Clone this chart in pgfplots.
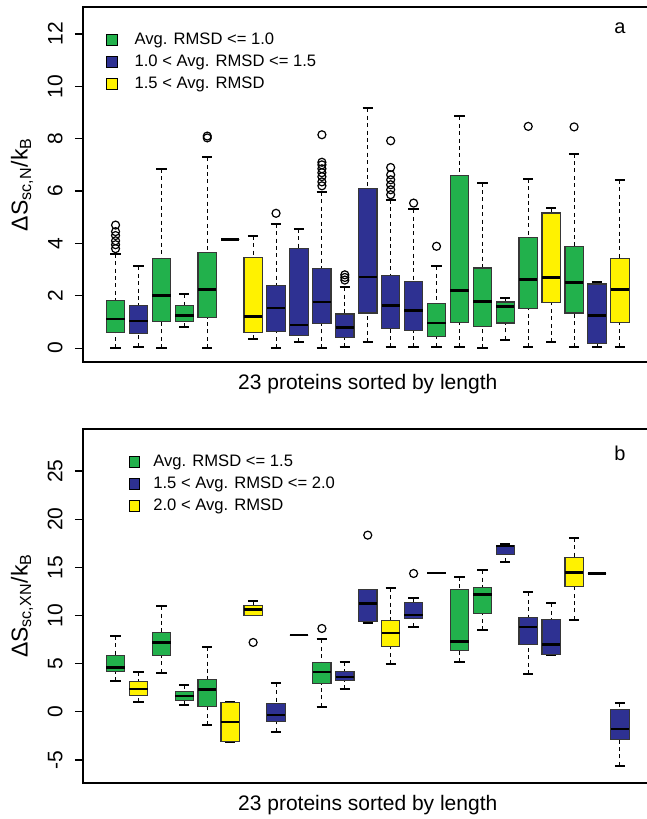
\documentclass[border=0pt]{standalone}
\usepackage{fontspec}
\setmainfont{Liberation Sans}
\usepackage{pgfplots}
\pgfplotsset{compat=1.18}
\usepgfplotslibrary{statistics}

\definecolor{cgreen}{RGB}{34,177,76}
\definecolor{cblue}{RGB}{46,49,146}
\definecolor{cyellow}{RGB}{255,242,0}
\definecolor{boxline}{RGB}{55,55,55}

\pgfplotsset{
  rbox/.style={
    scale only axis, width=284.75pt,
    xmin=-0.42, xmax=24.42, xtick=\empty,
    axis line style={line width=0.9pt},
    tick align=outside, ytick pos=left, major tick length=4pt,
    tick style={black, line width=0.6pt},
    ticklabel style={font=\fontsize{10.5}{12}\selectfont},
    yticklabel style={rotate=90, anchor=south, inner sep=0pt},
    yticklabel shift=6pt,
    /pgf/number format/assume math mode=true,
    label style={font=\fontsize{10.5}{12}\selectfont},
    xlabel={23 proteins sorted by length},
    xlabel style={at={(axis description cs:0.5,0)}, anchor=north, yshift=-6pt, inner sep=0pt},
    ylabel style={at={(axis description cs:-0.107,0.5)}, anchor=center, inner sep=0pt,
      font=\fontsize{11.5}{13}\selectfont},
    boxplot/draw direction=y,
    boxplot/box extend=0.8, boxplot/whisker extend=0.45,
    boxplot/draw/box/.code={
      \draw[/pgfplots/boxplot/every box/.try]
        (boxplot box cs:\pgfplotsboxplotvalue{lower quartile},0) rectangle
        (boxplot box cs:\pgfplotsboxplotvalue{upper quartile},1);
    },
    boxplot/draw/median/.code={
      \draw[black, line width=1.3pt]
        (boxplot box cs:\pgfplotsboxplotvalue{median},0) --
        (boxplot box cs:\pgfplotsboxplotvalue{median},1);
    },
    boxplot/draw/lower whisker/.code={
      \draw[black, line width=0.5pt, dash pattern=on 2pt off 1.7pt]
        (boxplot box cs:\pgfplotsboxplotvalue{lower whisker},0.5) --
        (boxplot box cs:\pgfplotsboxplotvalue{lower quartile},0.5);
      \draw[black, line width=1pt]
        (boxplot whisker cs:\pgfplotsboxplotvalue{lower whisker},0) --
        (boxplot whisker cs:\pgfplotsboxplotvalue{lower whisker},1);
    },
    boxplot/draw/upper whisker/.code={
      \draw[black, line width=0.5pt, dash pattern=on 2pt off 1.7pt]
        (boxplot box cs:\pgfplotsboxplotvalue{upper whisker},0.5) --
        (boxplot box cs:\pgfplotsboxplotvalue{upper quartile},0.5);
      \draw[black, line width=1pt]
        (boxplot whisker cs:\pgfplotsboxplotvalue{upper whisker},0) --
        (boxplot whisker cs:\pgfplotsboxplotvalue{upper whisker},1);
    },
    every axis plot/.append style={mark=o, mark size=2pt,
      mark options={solid, black, line width=0.6pt, fill=none}},
    legend image code/.code={\draw[#1, line width=0.5pt] (0pt,-2.6pt) rectangle (5.2pt,2.6pt);},
    legend cell align=left,
    legend style={draw=none, fill=none, inner sep=0pt, anchor=north west,
      font=\fontsize{8.3}{10}\selectfont, row sep=1.5pt,
      nodes={inner sep=1pt, text height=6pt, text depth=1.5pt}},
  },
  bg/.style={boxplot/every box/.style={fill=cgreen, draw=boxline, line width=0.6pt}},
  bb/.style={boxplot/every box/.style={fill=cblue, draw=boxline, line width=0.6pt}},
  by/.style={boxplot/every box/.style={fill=cyellow, draw=boxline, line width=0.6pt}},
}

\begin{document}
\begin{tikzpicture}
\path[use as bounding box] (0,0) rectangle (323.5pt,-409.5pt);
\clip (0,0) rectangle (323.5pt,-409.5pt);

% ---------------- panel a ----------------
\begin{axis}[rbox,
  at={(41.5pt,-3.5pt)}, anchor=north west, height=177.5pt,
  ymin=-0.53, ymax=13.03, ytick={0,2,4,6,8,10,12},
  ylabel={ΔS\textsubscript{sc,N}/k\textsubscript{B}},
  legend style={at={(axis description cs:0.04,0.935)},
    /tikz/every odd column/.append style={column sep=7.5pt}},
]
\addlegendimage{fill=cgreen, draw=black}
\addlegendentry{Avg. RMSD <= 1.0}
\addlegendimage{fill=cblue, draw=black}
\addlegendentry{1.0 < Avg. RMSD <= 1.5}
\addlegendimage{fill=cyellow, draw=black}
\addlegendentry{1.5 < Avg. RMSD}

\addplot[bg, boxplot prepared={draw position=1, lower whisker=0, lower quartile=0.61, median=1.11, upper quartile=1.83, upper whisker=3.6}]
  coordinates {(1,3.8) (1,3.95) (1,4.1) (1,4.3) (1,4.45) (1,4.7)};
\addplot[bb, boxplot prepared={draw position=2, lower whisker=0.05, lower quartile=0.57, median=1.04, upper quartile=1.63, upper whisker=3.12}] coordinates {};
\addplot[bg, boxplot prepared={draw position=3, lower whisker=0, lower quartile=1.02, median=2.01, upper quartile=3.41, upper whisker=6.85}] coordinates {};
\addplot[bg, boxplot prepared={draw position=4, lower whisker=0.79, lower quartile=1.02, median=1.25, upper quartile=1.64, upper whisker=2.05}] coordinates {};
\addplot[bg, boxplot prepared={draw position=5, lower whisker=0, lower quartile=1.17, median=2.23, upper quartile=3.66, upper whisker=7.29}]
  coordinates {(5,8.03) (5,8.1)};
\addplot[bg, boxplot prepared={draw position=6, lower whisker=4.15, lower quartile=4.15, median=4.15, upper quartile=4.15, upper whisker=4.15}] coordinates {};
\addplot[by, boxplot prepared={draw position=7, lower whisker=0.34, lower quartile=0.6, median=1.21, upper quartile=3.46, upper whisker=4.29}] coordinates {};
\addplot[bb, boxplot prepared={draw position=8, lower whisker=0, lower quartile=0.64, median=1.54, upper quartile=2.39, upper whisker=4.75}]
  coordinates {(8,5.15)};
\addplot[bb, boxplot prepared={draw position=9, lower whisker=0.23, lower quartile=0.47, median=0.88, upper quartile=3.8, upper whisker=4.56}] coordinates {};
\addplot[bb, boxplot prepared={draw position=10, lower whisker=0, lower quartile=0.93, median=1.76, upper quartile=3.03, upper whisker=5.96}]
  coordinates {(10,6.2) (10,6.35) (10,6.55) (10,6.7) (10,6.85) (10,7.0) (10,7.1) (10,8.15)};
\addplot[bb, boxplot prepared={draw position=11, lower whisker=0.03, lower quartile=0.41, median=0.79, upper quartile=1.3, upper whisker=2.33}]
  coordinates {(11,2.6) (11,2.7) (11,2.8)};
\addplot[bb, boxplot prepared={draw position=12, lower whisker=0.23, lower quartile=1.34, median=2.71, upper quartile=6.09, upper whisker=9.16}] coordinates {};
\addplot[bb, boxplot prepared={draw position=13, lower whisker=0.03, lower quartile=0.76, median=1.62, upper quartile=2.78, upper whisker=5.67}]
  coordinates {(13,5.86) (13,6.05) (13,6.24) (13,6.43) (13,6.62) (13,6.9) (13,7.92)};
\addplot[bb, boxplot prepared={draw position=14, lower whisker=0.03, lower quartile=0.66, median=1.44, upper quartile=2.55, upper whisker=5.31}]
  coordinates {(14,5.54)};
\addplot[bg, boxplot prepared={draw position=15, lower whisker=0.06, lower quartile=0.45, median=0.96, upper quartile=1.69, upper whisker=3.12}]
  coordinates {(15,3.89)};
\addplot[bg, boxplot prepared={draw position=16, lower whisker=0.03, lower quartile=0.98, median=2.19, upper quartile=6.59, upper whisker=8.85}] coordinates {};
\addplot[bg, boxplot prepared={draw position=17, lower whisker=0, lower quartile=0.83, median=1.77, upper quartile=3.06, upper whisker=6.32}] coordinates {};
\addplot[bg, boxplot prepared={draw position=18, lower whisker=0.32, lower quartile=0.96, median=1.59, upper quartile=1.76, upper whisker=1.9}] coordinates {};
\addplot[bg, boxplot prepared={draw position=19, lower whisker=0.03, lower quartile=1.52, median=2.61, upper quartile=4.24, upper whisker=6.47}]
  coordinates {(19,8.47)};
\addplot[by, boxplot prepared={draw position=20, lower whisker=0.22, lower quartile=1.73, median=2.7, upper quartile=5.16, upper whisker=5.36}] coordinates {};
\addplot[bg, boxplot prepared={draw position=21, lower whisker=0.03, lower quartile=1.34, median=2.51, upper quartile=3.87, upper whisker=7.43}]
  coordinates {(21,8.45)};
\addplot[bb, boxplot prepared={draw position=22, lower whisker=0.06, lower quartile=0.19, median=1.25, upper quartile=2.45, upper whisker=2.51}] coordinates {};
\addplot[by, boxplot prepared={draw position=23, lower whisker=0.03, lower quartile=0.98, median=2.23, upper quartile=3.41, upper whisker=6.43}] coordinates {};

\node[font=\fontsize{10}{12}\selectfont] at (axis description cs:0.943,0.941) {a};
\end{axis}

% ---------------- panel b ----------------
\begin{axis}[rbox,
  at={(41.5pt,-214.5pt)}, anchor=north west, height=176.85pt,
  ymin=-7.36, ymax=29.36, ytick={-5,0,5,10,15,20,25},
  ylabel={ΔS\textsubscript{sc,XN}/k\textsubscript{B}},
  legend style={at={(axis description cs:0.08,0.935)},
    /tikz/every odd column/.append style={column sep=5.5pt}},
]
\addlegendimage{fill=cgreen, draw=black}
\addlegendentry{Avg. RMSD <= 1.5}
\addlegendimage{fill=cblue, draw=black}
\addlegendentry{1.5 < Avg. RMSD <= 2.0}
\addlegendimage{fill=cyellow, draw=black}
\addlegendentry{2.0 < Avg. RMSD}

\addplot[bg, boxplot prepared={draw position=1, lower whisker=3.18, lower quartile=4.15, median=4.57, upper quartile=5.81, upper whisker=7.89}] coordinates {};
\addplot[by, boxplot prepared={draw position=2, lower whisker=0.97, lower quartile=1.66, median=2.35, upper quartile=3.11, upper whisker=4.15}] coordinates {};
\addplot[bg, boxplot prepared={draw position=3, lower whisker=4.08, lower quartile=5.88, median=7.2, upper quartile=8.24, upper whisker=10.97}] coordinates {};
\addplot[bg, boxplot prepared={draw position=4, lower whisker=0.69, lower quartile=1.14, median=1.66, upper quartile=2.15, upper whisker=2.77}] coordinates {};
\addplot[bg, boxplot prepared={draw position=5, lower whisker=-1.38, lower quartile=0.59, median=2.32, upper quartile=3.39, upper whisker=6.75}] coordinates {};
\addplot[by, boxplot prepared={draw position=6, lower whisker=-3.11, lower quartile=-3.11, median=-1.04, upper quartile=0.97, upper whisker=0.97}] coordinates {};
\addplot[by, boxplot prepared={draw position=7, lower whisker=10.03, lower quartile=10.03, median=10.62, upper quartile=11.0, upper whisker=11.49}]
  coordinates {(7,7.2)};
\addplot[bb, boxplot prepared={draw position=8, lower whisker=-2.08, lower quartile=-1.04, median=-0.35, upper quartile=0.87, upper whisker=3.01}] coordinates {};
\addplot[bb, boxplot prepared={draw position=9, lower whisker=7.96, lower quartile=7.96, median=7.96, upper quartile=7.96, upper whisker=7.96}] coordinates {};
\addplot[bg, boxplot prepared={draw position=10, lower whisker=0.52, lower quartile=2.94, median=4.15, upper quartile=5.09, upper whisker=7.51}]
  coordinates {(10,8.65)};
\addplot[bb, boxplot prepared={draw position=11, lower whisker=2.42, lower quartile=3.22, median=3.63, upper quartile=4.15, upper whisker=5.19}] coordinates {};
\addplot[bb, boxplot prepared={draw position=12, lower whisker=9.27, lower quartile=9.38, median=11.25, upper quartile=12.66, upper whisker=12.66}]
  coordinates {(12,18.34)};
\addplot[by, boxplot prepared={draw position=13, lower whisker=4.95, lower quartile=6.75, median=8.2, upper quartile=9.45, upper whisker=12.87}] coordinates {};
\addplot[bb, boxplot prepared={draw position=14, lower whisker=8.82, lower quartile=9.69, median=10.03, upper quartile=11.35, upper whisker=11.83}]
  coordinates {(14,14.36)};
\addplot[bb, boxplot prepared={draw position=15, lower whisker=14.43, lower quartile=14.43, median=14.43, upper quartile=14.43, upper whisker=14.43}] coordinates {};
\addplot[bg, boxplot prepared={draw position=16, lower whisker=5.12, lower quartile=6.33, median=7.27, upper quartile=12.66, upper whisker=14.01}] coordinates {};
\addplot[bg, boxplot prepared={draw position=17, lower whisker=8.48, lower quartile=10.21, median=12.18, upper quartile=12.94, upper whisker=14.71}] coordinates {};
\addplot[bb, boxplot prepared={draw position=18, lower whisker=15.57, lower quartile=16.37, median=17.2, upper quartile=17.3, upper whisker=17.4}] coordinates {};
\addplot[bb, boxplot prepared={draw position=19, lower whisker=3.91, lower quartile=6.99, median=8.79, upper quartile=9.76, upper whisker=12.39}] coordinates {};
\addplot[bb, boxplot prepared={draw position=20, lower whisker=5.92, lower quartile=5.92, median=6.96, upper quartile=9.55, upper whisker=11.25}] coordinates {};
\addplot[by, boxplot prepared={draw position=21, lower whisker=9.55, lower quartile=12.98, median=14.46, upper quartile=16.02, upper whisker=18.06}] coordinates {};
\addplot[by, boxplot prepared={draw position=22, lower whisker=14.36, lower quartile=14.36, median=14.36, upper quartile=14.36, upper whisker=14.36}] coordinates {};
\addplot[bb, boxplot prepared={draw position=23, lower whisker=-5.61, lower quartile=-2.87, median=-1.8, upper quartile=0.28, upper whisker=0.87}] coordinates {};

\node[font=\fontsize{10}{12}\selectfont] at (axis description cs:0.943,0.932) {b};
\end{axis}
\end{tikzpicture}
\end{document}
